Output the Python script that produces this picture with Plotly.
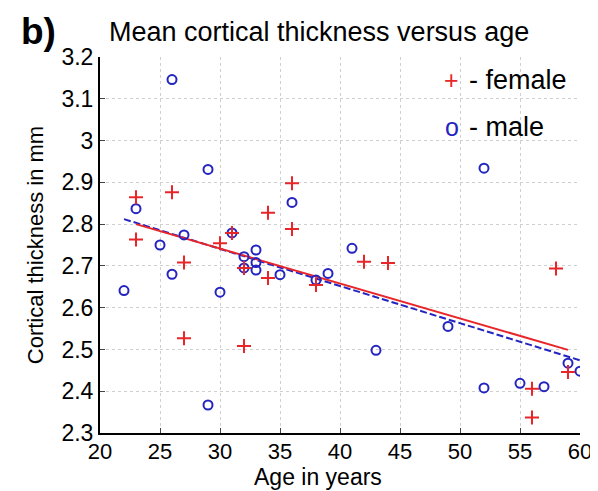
import plotly.graph_objects as go

# Female data (red +)
female_age = [23, 26, 36, 34, 36, 23, 31, 30, 27, 27, 32, 32, 34, 38, 42, 44, 58, 56, 56, 59]
female_thk = [2.864, 2.876, 2.898, 2.827, 2.788, 2.763, 2.779, 2.754, 2.708, 2.527,
              2.508, 2.695, 2.671, 2.654, 2.710, 2.707, 2.694, 2.406, 2.337, 2.446]

# Male data (blue o)
male_age = [26, 29, 23, 36, 25, 27, 31, 32, 33, 22, 26, 29, 30, 32, 33, 33, 35, 38, 39,
            52, 41, 43, 49, 52, 55, 57, 59, 60]
male_thk = [3.146, 2.931, 2.837, 2.852, 2.750, 2.774, 2.779, 2.722, 2.738, 2.641, 2.680,
            2.367, 2.637, 2.695, 2.708, 2.690, 2.679, 2.666, 2.682, 2.934, 2.742, 2.498,
            2.555, 2.408, 2.419, 2.411, 2.467, 2.448]

# Regression line end points
female_fit_x = [23, 59]
female_fit_y = [2.800, 2.499]
male_fit_x = [22, 60]
male_fit_y = [2.812, 2.474]

x_ticks = [20, 25, 30, 35, 40, 45, 50, 55, 60]
y_ticks = [2.3, 2.4, 2.5, 2.6, 2.7, 2.8, 2.9, 3.0, 3.1, 3.2]
y_tick_labels = ["2.3", "2.4", "2.5", "2.6", "2.7", "2.8", "2.9", "3", "3.1", "3.2"]

RED = "#e8262a"
BLUE = "#2424c0"
FONT = "Liberation Sans, Arial, sans-serif"

fig = go.Figure()
fig.add_trace(go.Scatter(x=male_fit_x, y=male_fit_y, mode="lines",
                         line=dict(color=BLUE, width=2, dash="7px,3px"), showlegend=False))
fig.add_trace(go.Scatter(x=female_fit_x, y=female_fit_y, mode="lines",
                         line=dict(color=RED, width=2), showlegend=False))
fig.add_trace(go.Scatter(x=male_age, y=male_thk, mode="markers",
                         marker=dict(symbol="circle-open", size=9, color=BLUE,
                                     line=dict(width=2, color=BLUE)), showlegend=False))
fig.add_trace(go.Scatter(x=female_age, y=female_thk, mode="markers",
                         marker=dict(symbol="cross-thin", size=10, color=RED,
                                     line=dict(width=2, color=RED)), showlegend=False))

fig.update_layout(
    width=590, height=483,
    margin=dict(l=92, r=18, t=49, b=58),
    paper_bgcolor="white", plot_bgcolor="white",
    font=dict(family=FONT, color="black"),
    showlegend=False,
)
fig.update_xaxes(range=[20, 60], tickvals=x_ticks, ticks="inside", ticklen=5,
                 showline=True, linecolor="black", linewidth=2, mirror=False,
                 showgrid=True, gridcolor="#d0d0d0", griddash="dot", gridwidth=1,
                 zeroline=False, tickfont=dict(size=22), ticklabelstandoff=-2,
                 automargin=False)
fig.update_yaxes(range=[2.3, 3.2], tickvals=y_ticks, ticktext=y_tick_labels,
                 ticks="inside", ticklen=5,
                 showline=True, linecolor="black", linewidth=2, mirror=False,
                 showgrid=True, gridcolor="#d0d0d0", griddash="dot", gridwidth=1,
                 zeroline=False, tickfont=dict(size=23), ticklabelstandoff=0,
                 automargin=False)

# Titles
fig.add_annotation(text="Mean cortical thickness versus age", xref="paper", yref="paper",
                   x=0.456, y=1.0, yshift=25, yanchor="middle", showarrow=False,
                   font=dict(size=27))
fig.add_annotation(text="<b>b)</b>", xref="paper", yref="paper", x=-0.128, y=1.0, yshift=48,
                   xanchor="center", yanchor="top", showarrow=False, font=dict(size=37))
fig.add_annotation(text="Age in years", xref="paper", yref="paper", x=0.454, y=-0.117,
                   xanchor="center", yanchor="middle", showarrow=False, font=dict(size=23))
fig.add_annotation(text="Cortical thickness in mm", xref="paper", yref="paper", x=-0.135, y=0.5,
                   xanchor="center", yanchor="middle", textangle=-90, showarrow=False,
                   font=dict(size=22))

# Legend as text
fig.add_annotation(text="+", xref="paper", yref="paper", x=0.733, y=0.939,
                   xanchor="center", yanchor="middle", showarrow=False,
                   font=dict(size=25, color=RED))
fig.add_annotation(text="- female", xref="paper", yref="paper", x=0.765, y=0.939,
                   xanchor="left", yanchor="middle", showarrow=False, font=dict(size=27))
fig.add_annotation(text="o", xref="paper", yref="paper", x=0.733, y=0.814,
                   xanchor="center", yanchor="middle", showarrow=False,
                   font=dict(size=25, color=BLUE))
fig.add_annotation(text="- male", xref="paper", yref="paper", x=0.765, y=0.814,
                   xanchor="left", yanchor="middle", showarrow=False, font=dict(size=27))

fig.write_html("out.html")
